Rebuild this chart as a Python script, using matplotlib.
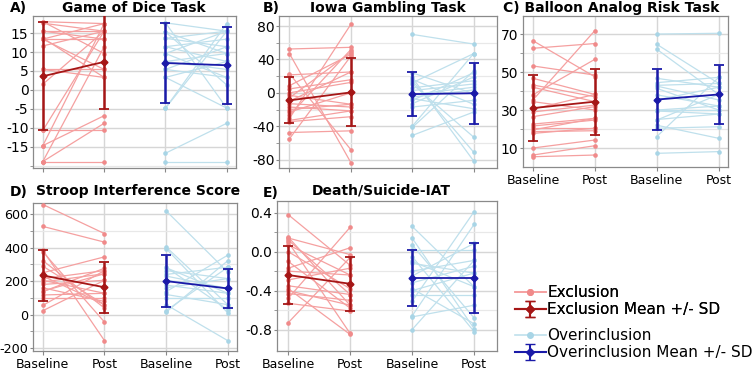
import matplotlib
matplotlib.use("Agg")
import matplotlib.pyplot as plt
from matplotlib.lines import Line2D
from matplotlib.ticker import FixedLocator, FormatStrFormatter
import numpy as np

plt.rcParams['font.family'] = ['DejaVu Sans']
plt.rcParams['axes.unicode_minus'] = False

timepoints = ["Baseline", "Post", "Baseline", "Post"]

# ---------------- data ----------------
# A) Game of Dice Task
A_exc_base = [18, 18, 17.6, 15.5, 15.5, 13.7, 13.4, 13.4, 11.6, 5.4, 5.4, 1.5, -10.7, -14.7, -18.9, -14.7, -18.9, -10.7, -18.9, 13.4]
A_exc_post = [17.5, 9.6, 15.5, 15.5, 13.4, 3.3, 5.4, 13.4, 15.5, 5.4, 3.3, 15.5, 15.5, 17.5, 11.4, -6.8, -8.8, -10.7, -18.9, 17.5]
A_ovr_base = [17.7, 17.7, 15.3, 15.3, 13.6, 13.6, 11.4, 11.4, 9.6, 9.6, 7.5, 7.5, 5.4, 3.3, 3.3, -4.8, -4.8, -16.7, -18.9, 5.4]
A_ovr_post = [15.5, -4.8, 9.6, 1.3, 15.5, 11.4, 13.4, 7.5, 15.5, 3.3, 5.4, 9.6, 11.4, -4.8, 7.5, 17.5, 15.5, -8.8, -18.9, 3.3]
A_exc_mean = [3.6, 7.4]
A_exc_sd = [14.3, 12.4]
A_ovr_mean = [7.1, 6.5]
A_ovr_sd = [10.5, 10.1]

# B) Iowa Gambling Task
B_exc_base = [52.5, 47, 23, 21.5, 8.6, 4.7, 0, -3, -6, -13, -17, -23, -27, -30.6, -34.5, -47.5, -55, -20, -10, -33]
B_exc_post = [54.5, -83.5, -68, 25, 46, 15.7, 12.5, -13.7, 48.6, -17, -21.6, 0, 51.8, 82, -28.6, -45.5, 44, -13.7, 25, -21.6]
B_ovr_base = [70, 24, 18.4, 14.5, 10.6, 6, 2.7, -2, -5, -9, -13, -17, -40, -41.5, -51, 16, -7, 12]
B_ovr_post = [58.4, -1, -81.6, -71, -53, 14.5, 10.6, 6.7, 3.5, 24, 19, -9, 47, 26, -23, -13.7, -19, 47]
B_exc_mean = [-9, 0.5]
B_exc_sd = [27.5, 40.7]
B_ovr_mean = [-1.5, -0.5]
B_ovr_sd = [26, 36.8]

# C) Balloon Analog Risk Task
C_exc_base = [66.5, 62.5, 53.2, 46.7, 43.2, 42, 38, 35.3, 34.4, 29, 26.5, 22.6, 21.6, 20.4, 18.6, 17.7, 10, 6.3, 5.4, 19.5, 30.5]
C_exc_post = [47.5, 65, 48.4, 38.2, 37, 34.4, 56.7, 71.8, 30, 32.6, 31.8, 25.6, 24.7, 20.4, 19.1, 20.4, 14.2, 11.2, 6.3, 25.6, 38.2]
C_ovr_base = [70, 64.6, 62, 46.7, 44.4, 42.6, 41.4, 38, 35.3, 30, 29.5, 24.7, 20.4, 22, 16, 7.2, 43, 30, 25]
C_ovr_post = [70.4, 44, 38.2, 42, 47.2, 35.3, 30, 32.1, 42, 30, 27.9, 38.2, 21.2, 15.1, 47.2, 8.1, 44, 32.1, 27.9]
C_exc_mean = [31, 34.4]
C_exc_sd = [17.3, 17.4]
C_ovr_mean = [35.5, 38.2]
C_ovr_sd = [16, 15.3]

# D) Stroop Interference Score
D_exc_base = [658, 527, 384, 375, 322, 289, 250, 215, 195, 180, 160, 137, 117, 98, 55, 23, 230, 205, 140]
D_exc_post = [484, 433, -156, -45, 39, 59, 345, 263, 244, 205, 78, 277, 127, 98, 263, 205, 59, 127, 244]
D_ovr_base = [620, 404, 394, 283, 263, 240, 205, 176, 137, 98, 59, 23, 14, 160, 280, 120, 230]
D_ovr_post = [254, 59, 10, 29, 215, 283, 156, 127, 355, 98, -156, 283, 322, 215, 127, 59, 156]
D_exc_mean = [234, 163]
D_exc_sd = [151, 153]
D_ovr_mean = [200, 156]
D_ovr_sd = [155, 119]

# E) Death/Suicide-IAT
E_exc_base = [0.38, 0.15, 0.14, 0.10, 0.07, 0.0, -0.10, -0.17, -0.29, -0.35, -0.38, -0.43, -0.48, -0.53, -0.73, -0.20, -0.40, 0.12]
E_exc_post = [-0.14, -0.55, -0.03, -0.84, -0.24, -0.38, -0.58, 0.04, -0.17, -0.44, -0.85, -0.50, 0.25, -0.61, -0.06, -0.24, -0.55, -0.44]
E_ovr_base = [0.26, 0.14, 0.07, 0.02, -0.05, -0.12, -0.20, -0.32, -0.38, -0.44, -0.51, -0.66, -0.67, -0.80, -0.25, -0.40, -0.10]
E_ovr_post = [-0.36, -0.79, -0.68, 0.02, -0.82, -0.22, -0.09, -0.15, -0.74, -0.44, 0.41, 0.28, -0.55, -0.09, 0.085, -0.22, -0.36]
E_exc_mean = [-0.24, -0.33]
E_exc_sd = [0.30, 0.275]
E_ovr_mean = [-0.27, -0.27]
E_ovr_sd = [0.29, 0.36]

# ---------------- styling ----------------
EXC_LINE = '#f5a0a0'
EXC_PT = '#f08a8a'
EXC_MEAN = '#a51616'
OVR_LINE = '#bfe0ec'
OVR_PT = '#a8d5e6'
OVR_MEAN = '#1a1aa8'

W, H = 756, 372
fig = plt.figure(figsize=(W / 100, H / 100), dpi=100)


def rect(l, t, r, b):
    return [l / W, 1 - b / H, (r - l) / W, (b - t) / H]


def draw_panel(ax, eb, ep, ob, op, em, es, om, osd):
    for b, p in zip(eb, ep):
        ax.plot([0, 1], [b, p], color=EXC_LINE, lw=0.9, zorder=2)
    ax.scatter([0] * len(eb) + [1] * len(ep), list(eb) + list(ep), s=11,
               color=EXC_PT, zorder=3, linewidths=0)
    for b, p in zip(ob, op):
        ax.plot([2, 3], [b, p], color=OVR_LINE, lw=0.9, zorder=2)
    ax.scatter([2] * len(ob) + [3] * len(op), list(ob) + list(op), s=11,
               color=OVR_PT, zorder=3, linewidths=0)
    ax.errorbar([0, 1], em, yerr=es, color=EXC_MEAN, lw=1.3, elinewidth=1.8,
                capsize=3.5, capthick=1.3, marker='D', ms=3.5, zorder=5)
    ax.errorbar([2, 3], om, yerr=osd, color=OVR_MEAN, lw=1.3, elinewidth=1.8,
                capsize=3.5, capthick=1.3, marker='D', ms=3.5, zorder=5)


def style(ax, xlim, ylim, major, minor, fmt, show_x, ysize=10):
    ax.set_xlim(*xlim)
    ax.set_ylim(*ylim)
    ax.set_xticks([0, 1, 2, 3])
    if show_x:
        ax.set_xticklabels(timepoints, fontsize=9)
    else:
        ax.set_xticklabels([])
    ax.yaxis.set_major_locator(FixedLocator(major))
    if minor is not None:
        ax.yaxis.set_minor_locator(FixedLocator(minor))
    ax.yaxis.set_major_formatter(FormatStrFormatter(fmt))
    ax.tick_params(axis='y', labelsize=ysize, length=2.5, color='#888888', pad=0.8)
    ax.tick_params(axis='y', which='minor', length=2.5, color='#888888')
    ax.tick_params(axis='x', length=3, color='#888888', pad=2)
    ax.grid(True, which='major', color='#d6d6d6', lw=1.0, zorder=0)
    ax.grid(True, which='minor', axis='y', color='#e8e8e8', lw=0.9, zorder=0)
    ax.set_axisbelow(True)
    for s in ax.spines.values():
        s.set_color('#8a8a8a')
        s.set_linewidth(0.9)


axA = fig.add_axes(rect(33, 16, 236, 168))
draw_panel(axA, A_exc_base, A_exc_post, A_ovr_base, A_ovr_post, A_exc_mean, A_exc_sd, A_ovr_mean, A_ovr_sd)
style(axA, (-0.16, 3.15), (-20.6, 19.5), [-15, -10, -5, 0, 5, 10, 15], [-20], '%g', False)

axB = fig.add_axes(rect(279, 16, 497, 168))
draw_panel(axB, B_exc_base, B_exc_post, B_ovr_base, B_ovr_post, B_exc_mean, B_exc_sd, B_ovr_mean, B_ovr_sd)
style(axB, (-0.17, 3.38), (-90, 92), [-80, -40, 0, 40, 80], [-60, -20, 20, 60], '%g', False)

axC = fig.add_axes(rect(523, 16, 728, 167))
draw_panel(axC, C_exc_base, C_exc_post, C_ovr_base, C_ovr_post, C_exc_mean, C_exc_sd, C_ovr_mean, C_ovr_sd)
style(axC, (-0.16, 3.15), (0, 79.5), [10, 30, 50, 70], [20, 40, 60], '%g', True)

axD = fig.add_axes(rect(33, 203, 237, 351))
draw_panel(axD, D_exc_base, D_exc_post, D_ovr_base, D_ovr_post, D_exc_mean, D_exc_sd, D_ovr_mean, D_ovr_sd)
style(axD, (-0.16, 3.15), (-218, 667), [-200, 0, 200, 400, 600], [-100, 100, 300, 500], '%g', True, ysize=9.2)

axE = fig.add_axes(rect(277, 201, 497, 351))
draw_panel(axE, E_exc_base, E_exc_post, E_ovr_base, E_ovr_post, E_exc_mean, E_exc_sd, E_ovr_mean, E_ovr_sd)
style(axE, (-0.18, 3.37), (-1.02, 0.52), [-0.8, -0.4, 0.0, 0.4], [-0.6, -0.2, 0.2], '%.1f', True)

# ---------------- titles ----------------
def ftext(x, y, s, ha='left'):
    fig.text(x / W, 1 - y / H, s, ha=ha, va='center', fontsize=10, fontweight='bold')

ftext(10, 8, "A)")
ftext(134, 8, "Game of Dice Task", ha='center')
ftext(263, 8, "B)")
ftext(388, 8, "Iowa Gambling Task", ha='center')
ftext(503, 8, "C) Balloon Analog Risk Task")
ftext(10, 192, "D)")
ftext(138, 191, "Stroop Interference Score", ha='center')
ftext(263, 193, "E)")
ftext(381, 191, "Death/Suicide-IAT", ha='center')

# ---------------- legends ----------------
h_exc = Line2D([0], [0], color=EXC_LINE, lw=1.2, marker='o', ms=4, markerfacecolor=EXC_PT, markeredgecolor=EXC_PT)
h_ovr = Line2D([0], [0], color=OVR_LINE, lw=1.2, marker='o', ms=4, markerfacecolor=OVR_PT, markeredgecolor=OVR_PT)
eb_exc = axA.errorbar([np.nan], [np.nan], yerr=[1], color=EXC_MEAN, lw=1.5, capsize=3.5, marker='D', ms=4)
eb_ovr = axA.errorbar([np.nan], [np.nan], yerr=[1], color=OVR_MEAN, lw=1.5, capsize=3.5, marker='D', ms=4)

leg1 = fig.legend([h_exc, eb_exc], ["Exclusion", "Exclusion Mean +/- SD"],
                  loc='upper left', bbox_to_anchor=(515 / W, 1 - 285 / H),
                  frameon=False, fontsize=11, handlelength=2.0, handletextpad=0.1,
                  labelspacing=0.15, borderpad=0, borderaxespad=0)
leg2 = fig.legend([h_ovr, eb_ovr], ["Overinclusion", "Overinclusion Mean +/- SD"],
                  loc='upper left', bbox_to_anchor=(515 / W, 1 - 328 / H),
                  frameon=False, fontsize=11, handlelength=2.0, handletextpad=0.1,
                  labelspacing=0.15, borderpad=0, borderaxespad=0)
fig.add_artist(leg1)

fig.savefig("out.png", dpi=100)
